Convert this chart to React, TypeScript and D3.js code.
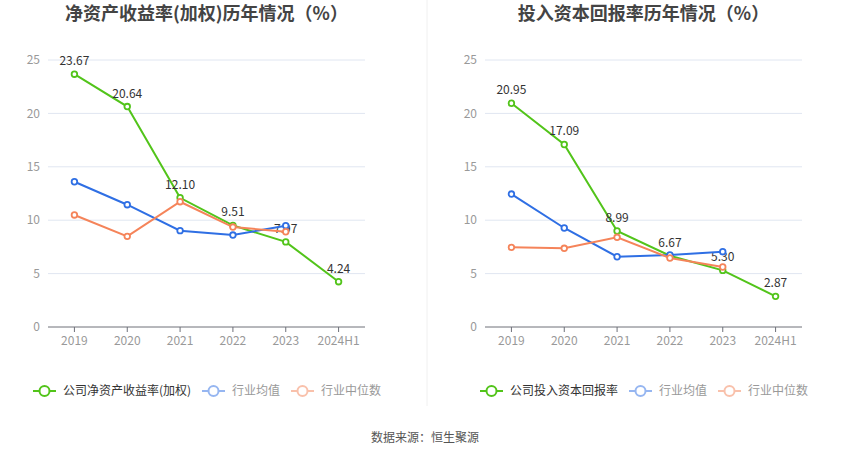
import React from 'react';
import * as d3 from 'd3';

const years = ['2019', '2020', '2021', '2022', '2023', '2024H1'];
const yTicks = [0, 5, 10, 15, 20, 25];

// 净资产收益率(加权)
const roeCompany = [23.67, 20.64, 12.1, 9.51, 7.97, 4.24];
const roeAvg = [13.6, 11.45, 9.02, 8.61, 9.49];
const roeMedian = [10.49, 8.49, 11.73, 9.36, 8.92];

// 投入资本回报率
const roicCompany = [20.95, 17.09, 8.99, 6.67, 5.3, 2.87];
const roicAvg = [12.45, 9.27, 6.58, 6.74, 7.05];
const roicMedian = [7.46, 7.37, 8.4, 6.46, 5.62];

const GREEN = '#52c41a';
const BLUE = '#2f6fe4';
const ORANGE = '#f5845a';
const FONT = '"Noto Sans CJK SC", "Noto Sans", sans-serif';

// rough text width for 12px labels
const textWidth = (s: string) =>
  Array.from(s).reduce((w, ch) => w + (/[()]/.test(ch) ? 4 : 12), 0);

interface PanelProps {
  left: number;
  right: number;
  title: string;
  company: number[];
  avg: number[];
  median: number[];
  legendX: number;
  companyName: string;
}

const Panel: React.FC<PanelProps> = ({ left, right, title, company, avg, median, legendX, companyName }) => {
  const x = d3.scalePoint<string>().domain(years).range([left, right]).padding(0.5);
  const y = d3.scaleLinear().domain([0, 25]).range([327, 60]);
  const line = d3
    .line<number>()
    .x((_, i) => x(years[i]) || 0)
    .y(d => y(d));

  const series = (vals: number[], color: string, key: string) => (
    <g key={key}>
      <path d={line(vals) || ''} fill="none" stroke={color} strokeWidth={2} />
      {vals.map((v, i) => (
        <circle key={i} cx={x(years[i])} cy={y(v)} r={2.8} fill="#fff" stroke={color} strokeWidth={1.8} />
      ))}
    </g>
  );

  const legendItems = [
    { name: companyName, color: GREEN, text: '#333', op: 1 },
    { name: '行业均值', color: BLUE, text: '#999', op: 0.5 },
    { name: '行业中位数', color: ORANGE, text: '#999', op: 0.5 },
  ];
  let lx = legendX;

  return (
    <g fontFamily={FONT}>
      <text x={(left + right) / 2} y={20} textAnchor="middle" fontSize={18} fontWeight="bold" fill="#444">
        {title}
      </text>
      {yTicks.map(t => (
        <g key={t}>
          {t > 0 && <line x1={left} x2={right} y1={y(t)} y2={y(t)} stroke="#e0e6f1" />}
          <text x={left - 8} y={y(t)} dy="0.35em" textAnchor="end" fontSize={12} fill="#999">
            {t}
          </text>
        </g>
      ))}
      <line x1={left} x2={right} y1={y(0)} y2={y(0)} stroke="#6e7079" />
      {years.map(yr => (
        <g key={yr}>
          <line x1={x(yr)} x2={x(yr)} y1={y(0)} y2={y(0) + 5} stroke="#6e7079" />
          <text x={x(yr)} y={y(0) + 18} textAnchor="middle" fontSize={12} fill="#999">
            {yr}
          </text>
        </g>
      ))}
      {series(company, GREEN, 'c')}
      {company.map((v, i) => (
        <text key={i} x={x(years[i])} y={y(v) - 9} textAnchor="middle" fontSize={12} fill="#333">
          {v.toFixed(2)}
        </text>
      ))}
      {series(avg, BLUE, 'a')}
      {series(median, ORANGE, 'm')}
      {legendItems.map(it => {
        const gx = lx;
        lx += 30 + textWidth(it.name) + 11;
        return (
          <g key={it.name} transform={`translate(${gx},391)`}>
            <g opacity={it.op}>
              <line x1={0} x2={23} y1={0} y2={0} stroke={it.color} strokeWidth={2} />
              <circle cx={11.5} cy={0} r={5} fill="#fff" stroke={it.color} strokeWidth={2} />
            </g>
            <text x={30} y={0} dy="0.35em" fontSize={12} fill={it.text}>
              {it.name}
            </text>
          </g>
        );
      })}
    </g>
  );
};

export default function App() {
  return (
    <svg width={850} height={459} style={{ position: 'absolute', left: 0, top: 0, background: '#fff' }}>
      <rect width={850} height={459} fill="#fff" />
      <line x1={427} x2={427} y1={0} y2={406} stroke="#f0f0f0" />
      <Panel
        left={48}
        right={365}
        title="净资产收益率(加权)历年情况（%）"
        company={roeCompany}
        avg={roeAvg}
        median={roeMedian}
        legendX={33}
        companyName="公司净资产收益率(加权)"
      />
      <Panel
        left={485}
        right={802}
        title="投入资本回报率历年情况（%）"
        company={roicCompany}
        avg={roicAvg}
        median={roicMedian}
        legendX={480}
        companyName="公司投入资本回报率"
      />
      <text x={425} y={438} dy="0.35em" textAnchor="middle" fontSize={12} fill="#555" fontFamily={FONT}>
        数据来源：恒生聚源
      </text>
    </svg>
  );
}
